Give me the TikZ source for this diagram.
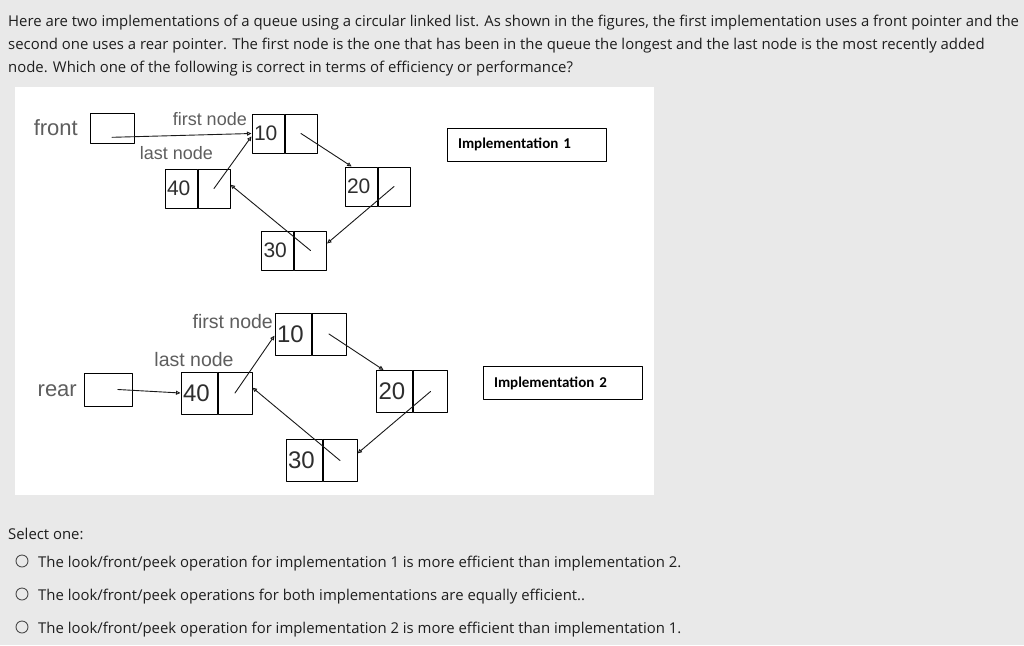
\documentclass[tikz,border=0pt]{standalone}
\usepackage{fontspec}
\setmainfont{Open Sans}
\newfontfamily\arialfont{Liberation Sans}
\newfontfamily\calfont{Carlito}
\usepackage{tikz}
\usetikzlibrary{positioning}
\usetikzlibrary{calc}
\usetikzlibrary{arrows.meta}
\definecolor{pagegray}{HTML}{E9E9E9}
\definecolor{labelgray}{HTML}{5E5E5E}
\definecolor{numgray}{HTML}{2E2E2E}
\definecolor{textdark}{HTML}{1E1E1E}

\begin{document}
\begin{tikzpicture}[x=1pt,y=-1pt,line cap=round,line join=round,
  ptr/.style={-{Triangle[open,length=4.5pt,width=4pt]},line width=0.9pt,color=black!90},
  cellA/.style={draw,line width=1pt,minimum width=32pt,minimum height=39pt,inner sep=0pt},
  numA/.style={cellA,text width=28pt,inner xsep=2pt,align=left,text=numgray,font=\arialfont\fontsize{21}{21}\selectfont},
  cellB/.style={draw,line width=1pt,minimum width=34pt,minimum height=42pt,inner sep=0pt},
  numB/.style={cellB,minimum width=36pt,text width=32pt,inner xsep=2pt,align=left,text=numgray,font=\arialfont\fontsize{24}{24}\selectfont},
  lbl/.style={text=labelgray,inner sep=0pt,font=\arialfont\fontsize{18}{18}\selectfont},
  implbox/.style={draw,line width=1pt,minimum height=33pt,text width=137pt,inner xsep=11pt,align=left,font=\calfont\bfseries\fontsize{15}{15}\selectfont},
  qtext/.style={anchor=base west,inner sep=0pt,text=textdark,font=\fontsize{14.9}{17}\selectfont}]
\useasboundingbox (0,0) rectangle (1024,645);
\fill[pagegray] (0,0) rectangle (1024,645);
\fill[white] (15,87) rectangle (654,495);
% question
\node[qtext] (qline1) at (8,26) {Here are two implementations of a queue using a circular linked list. As shown in the figures, the first implementation uses a front pointer and the};
\node[qtext] (qline2) at (8,49) {second one uses a rear pointer. The first node is the one that has been in the queue the longest and the last node is the most recently added};
\node[qtext] (qline3) at (8,72) {node. Which one of the following is correct in terms of efficiency or performance?};
% implementation 1
\node[draw,line width=1pt,minimum width=44pt,minimum height=30pt] (afront) at (112,128) {};
\node[lbl,anchor=east,font=\arialfont\fontsize{22}{22}\selectfont] (afrontlbl) at (78,128) {front};
\node[numA] (a10d) at (268,133.5) {10};
\node[cellA,right=0pt of a10d] (a10p) {};
\node[numA] (a40d) at (181,188.5) {40};
\node[cellA,right=0pt of a40d] (a40p) {};
\node[numA] (a20d) at (361,186.5) {20};
\node[cellA,right=0pt of a20d] (a20p) {};
\node[numA] (a30d) at (277.5,250.5) {30};
\node[cellA,right=0pt of a30d] (a30p) {};
\node[lbl,anchor=east] (afirst) at (247,119) {first node};
\node[lbl] (alast) at (176.5,153) {last node};
\draw[ptr] ($(afront.center)!0.6!(afront.south)$) -- (a10d.west);
\draw[ptr] (a40p.center) -- (a10d.190);
\draw[ptr] (a10p.center) -- (a20d.115);
\draw[ptr] (a20p.center) -- (a30p.23);
\draw[ptr] (a30p.center) -- (a40p.13);
\node[implbox] (aimpl) at (526.5,144.5) {Implementation 1};
% implementation 2
\node[draw,line width=1pt,minimum width=48pt,minimum height=33pt] (brear) at (108,389.5) {};
\node[lbl,anchor=east,font=\arialfont\fontsize{22}{22}\selectfont] (brearlbl) at (77,391) {rear};
\node[numB] (b40d) at (199,393) {40};
\node[cellB,right=0pt of b40d] (b40p) {};
\node[numB] (b10d) at (293,334) {10};
\node[cellB,right=0pt of b10d] (b10p) {};
\node[numB] (b20d) at (394.5,391.5) {20};
\node[cellB,right=0pt of b20d] (b20p) {};
\node[numB] (b30d) at (304,460.5) {30};
\node[cellB,right=0pt of b30d] (b30p) {};
\node[lbl,anchor=east,font=\arialfont\fontsize{19.5}{19.5}\selectfont] (bfirst) at (273,322) {first node};
\node[lbl,font=\arialfont\fontsize{19.5}{19.5}\selectfont] (blast) at (194,360) {last node};
\draw[ptr] ($(brear.center)!0.4!(brear.east)$) -- (b40d.west);
\draw[ptr] (b40p.center) -- (b10d.185);
\draw[ptr] (b10p.center) -- (b20d.117);
\draw[ptr] (b20p.center) -- (b30p.22);
\draw[ptr] (b30p.center) -- (b40p.17);
\node[implbox] (bimpl) at (562.5,383) {Implementation 2};
% answers
\node[qtext] (selone) at (8,539) {Select one:};
\node[circle,draw=black!70,line width=0.9pt,minimum size=12pt,inner sep=0pt] (opt1c) at (22,561) {};
\node[qtext] (opt1) at (38,567) {The look/front/peek operation for implementation 1 is more efficient than implementation 2.};
\node[circle,draw=black!70,line width=0.9pt,minimum size=12pt,inner sep=0pt] (opt2c) at (22,594) {};
\node[qtext] (opt2) at (38,600) {The look/front/peek operations for both implementations are equally efficient..};
\node[circle,draw=black!70,line width=0.9pt,minimum size=12pt,inner sep=0pt] (opt3c) at (22,627) {};
\node[qtext] (opt3) at (38,633) {The look/front/peek operation for implementation 2 is more efficient than implementation 1.};
\end{tikzpicture}
\end{document}
